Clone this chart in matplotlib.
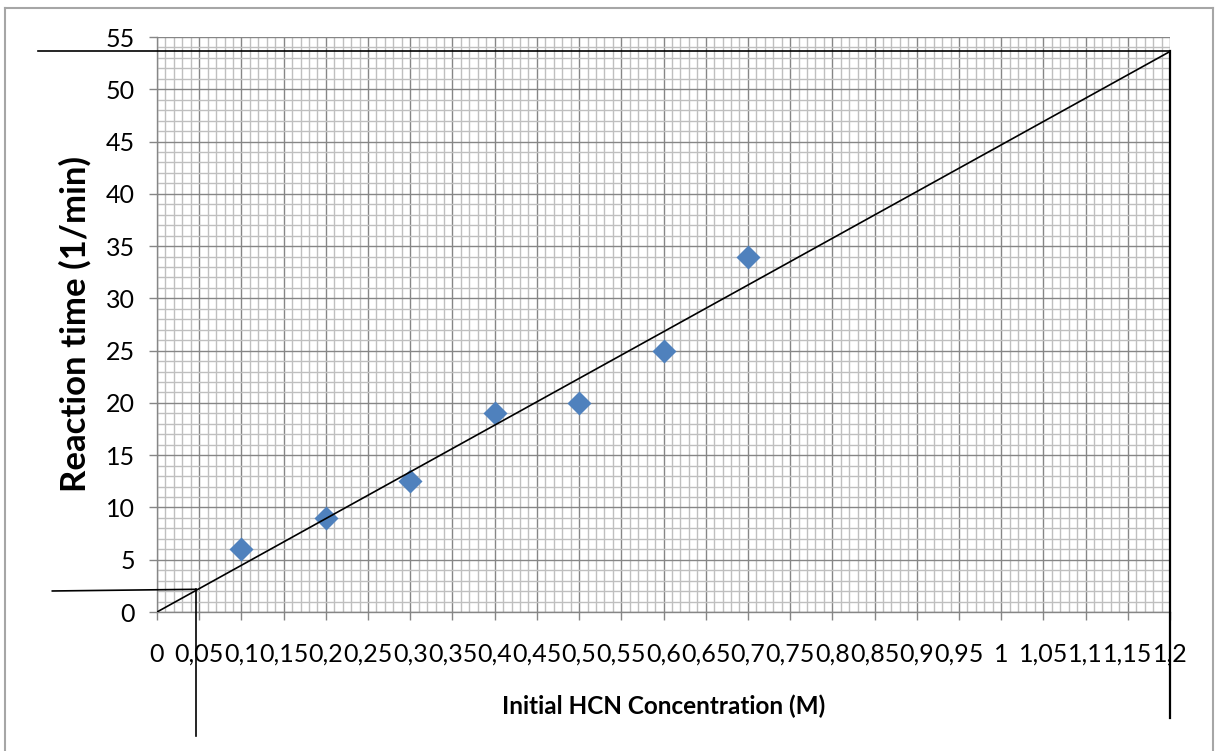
import numpy as np
import matplotlib
matplotlib.use("Agg")
import matplotlib.pyplot as plt
from matplotlib.ticker import MultipleLocator
from matplotlib.lines import Line2D

# measured points
conc = [0.1, 0.2, 0.3, 0.4, 0.5, 0.6, 0.7]
rate = [6, 9, 12.5, 19, 20, 25, 34]

x_ticks = [round(0.05 * i, 2) for i in range(25)]
x_tick_labels = ['0', '0,05', '0,1', '0,15', '0,2', '0,25', '0,3', '0,35', '0,4', '0,45',
                 '0,5', '0,55', '0,6', '0,65', '0,7', '0,75', '0,8', '0,85', '0,9', '0,95',
                 '1', '1,05', '1,1', '1,15', '1,2']
y_ticks = list(range(0, 60, 5))

# hand drawn reading lines
x_end = 1.2
x_read = 0.046
y_read = [2.01, 2.17]
top_left = -0.141
small_left = -0.124
y_bottom_read = -11.9
y_bottom_end = -10.15

plt.rcParams['font.family'] = ['Lato', 'DejaVu Sans']

# linear fit through origin
x = np.array(conc)
y = np.array(rate)
slope = (x * y).sum() / (x * x).sum()
y_end = slope * x_end

fig = plt.figure(figsize=(12.15, 7.51), dpi=100)
ax = fig.add_axes([157 / 1215, 1 - 612 / 751, 1013 / 1215, 575 / 751])

ax.set_xlim(0, 1.2)
ax.set_ylim(0, 55)
ax.xaxis.set_minor_locator(MultipleLocator(0.01))
ax.yaxis.set_minor_locator(MultipleLocator(1))
ax.set_xticks(x_ticks)
ax.set_xticklabels(x_tick_labels)
ax.set_yticks(y_ticks)
ax.grid(which='minor', color='#bfbfbf', lw=1.0)
ax.grid(which='major', color='#868686', lw=1.0)
ax.set_axisbelow(True)

for s in ['top', 'right']:
    ax.spines[s].set_visible(False)
for s in ['left', 'bottom']:
    ax.spines[s].set_color('#868686')
    ax.spines[s].set_linewidth(1.0)

ax.tick_params(which='major', length=6, color='#868686', width=1.0, labelsize=18)
ax.tick_params(which='minor', length=0)
ax.tick_params(axis='x', pad=16)
ax.tick_params(axis='y', pad=10)

ax.scatter(conc, rate, marker='D', s=150, color='#4f81bd', zorder=3, linewidths=0)

# trendline and reading lines
ax.plot([0, x_end], [0, y_end], color='black', lw=1.2, zorder=4)
ax.plot([top_left, x_end], [y_end, y_end], color='black', lw=1.2, clip_on=False, zorder=4)
ax.plot([x_end, x_end], [y_end, y_bottom_end], color='black', lw=1.6, clip_on=False, zorder=4)
ax.plot([small_left, x_read], y_read, color='black', lw=1.2, clip_on=False, zorder=4)
ax.plot([x_read, x_read], [y_read[1], y_bottom_read], color='black', lw=1.2, clip_on=False, zorder=4)

ax.set_xlabel('Initial HCN Concentration (M)', fontsize=17.5, fontweight='bold', labelpad=21)
ax.set_ylabel('Reaction time (1/min)', fontsize=25, fontweight='bold', labelpad=10)

# chart area border
fig.add_artist(Line2D([5 / 1215, 5 / 1215], [0, 1 - 8 / 751], transform=fig.transFigure, color='#a6a6a6', lw=1.5))
fig.add_artist(Line2D([5 / 1215, 1213 / 1215], [1 - 8 / 751, 1 - 8 / 751], transform=fig.transFigure, color='#a6a6a6', lw=1.5))
fig.add_artist(Line2D([1213 / 1215, 1213 / 1215], [0, 1 - 8 / 751], transform=fig.transFigure, color='#a6a6a6', lw=1.5))

fig.savefig('out.png', dpi=100)
